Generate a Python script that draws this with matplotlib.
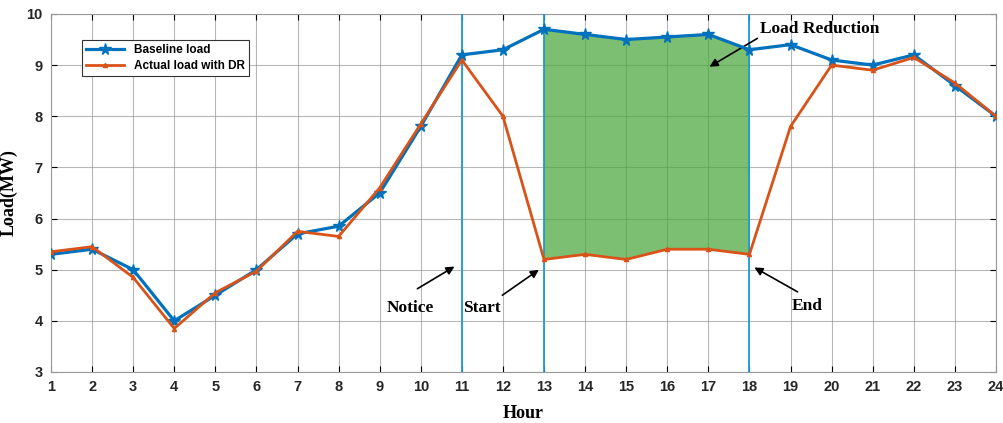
import matplotlib.pyplot as plt

# hourly load (MW)
hours = list(range(1, 25))
baseline = [5.3, 5.4, 5.0, 4.0, 4.5, 5.0, 5.7, 5.85, 6.5, 7.8, 9.2, 9.3,
            9.7, 9.6, 9.5, 9.55, 9.6, 9.3, 9.4, 9.1, 9.0, 9.2, 8.6, 8.0]
actual = [5.35, 5.45, 4.85, 3.85, 4.55, 4.97, 5.75, 5.65, 6.6, 7.85, 9.1, 8.0,
          5.2, 5.3, 5.2, 5.4, 5.4, 5.3, 7.8, 9.0, 8.9, 9.15, 8.65, 8.0]
event_hours = [11, 13, 18]   # notice, start, end
dr_start, dr_end = 13, 18

blue = "#0072BD"
orange = "#D95319"
serif = "Liberation Serif"
sans = "Liberation Sans"

fig = plt.figure(figsize=(10.04, 4.23), dpi=100)
ax = fig.add_axes([0.0508, 0.1206, 0.9412, 0.8464])

# shaded load reduction
idx = [i for i, h in enumerate(hours) if dr_start <= h <= dr_end]
ax.fill_between([hours[i] for i in idx], [actual[i] for i in idx],
                [baseline[i] for i in idx], color="#4aa63c", alpha=0.72,
                linewidth=0, zorder=2)

for h in event_hours:
    ax.axvline(h, color="#1e9ad6", linewidth=1.3, zorder=3)

ax.plot(hours, baseline, color=blue, linewidth=2.3, marker="*",
        markersize=8.5, label="Baseline load", zorder=4)
ax.plot(hours, actual, color=orange, linewidth=2.0, marker="^",
        markersize=3, label="Actual load with DR", zorder=5)

ax.set_xlim(1, 24)
ax.set_ylim(3, 10)
ax.set_xticks(hours)
ax.set_yticks(range(3, 11))
ax.grid(True, color="#888888", linewidth=0.8, alpha=0.6)
ax.tick_params(direction="in", top=True, right=True, length=4,
               labelsize=10.5, pad=6)
for lab in ax.get_xticklabels() + ax.get_yticklabels():
    lab.set_fontweight("bold")
    lab.set_fontfamily(sans)
    lab.set_color("#262626")
for s in ax.spines.values():
    s.set_color("#999999")

ax.set_xlabel("Hour", fontsize=13, fontweight="bold", family=serif)
ax.set_ylabel("Load(MW)", fontsize=13, fontweight="bold", family=serif)
ax.xaxis.set_label_coords(0.5, -0.093)
ax.yaxis.set_label_coords(-0.035, 0.5)

ap = dict(arrowstyle="-|>", color="black", linewidth=1.2, mutation_scale=12)
tf = dict(fontsize=12.5, fontweight="bold", family=serif)
ax.annotate("", xy=(10.88, 5.09), xytext=(9.86, 4.6), arrowprops=ap)
ax.text(9.74, 4.25, "Notice", ha="center", va="center", **tf)
ax.annotate("", xy=(12.93, 5.03), xytext=(11.93, 4.47), arrowprops=ap)
ax.text(11.49, 4.25, "Start", ha="center", va="center", **tf)
ax.annotate("", xy=(18.06, 5.07), xytext=(19.23, 4.54), arrowprops=ap)
ax.text(19.4, 4.29, "End", ha="center", va="center", **tf)
ax.annotate("", xy=(16.97, 8.94), xytext=(18.25, 9.55), arrowprops=ap)
ax.text(18.25, 9.7, "Load Reduction", ha="left", va="center", **tf)

leg = ax.legend(loc="upper left", bbox_to_anchor=(0.033, 0.927),
                borderaxespad=0,
                prop=dict(family=sans, weight="bold", size=8.5),
                fancybox=False, edgecolor="#333333", framealpha=1,
                borderpad=0.35, handlelength=3.2, labelspacing=0.3)
leg.get_frame().set_linewidth(0.8)

fig.savefig("out.png", dpi=100)
